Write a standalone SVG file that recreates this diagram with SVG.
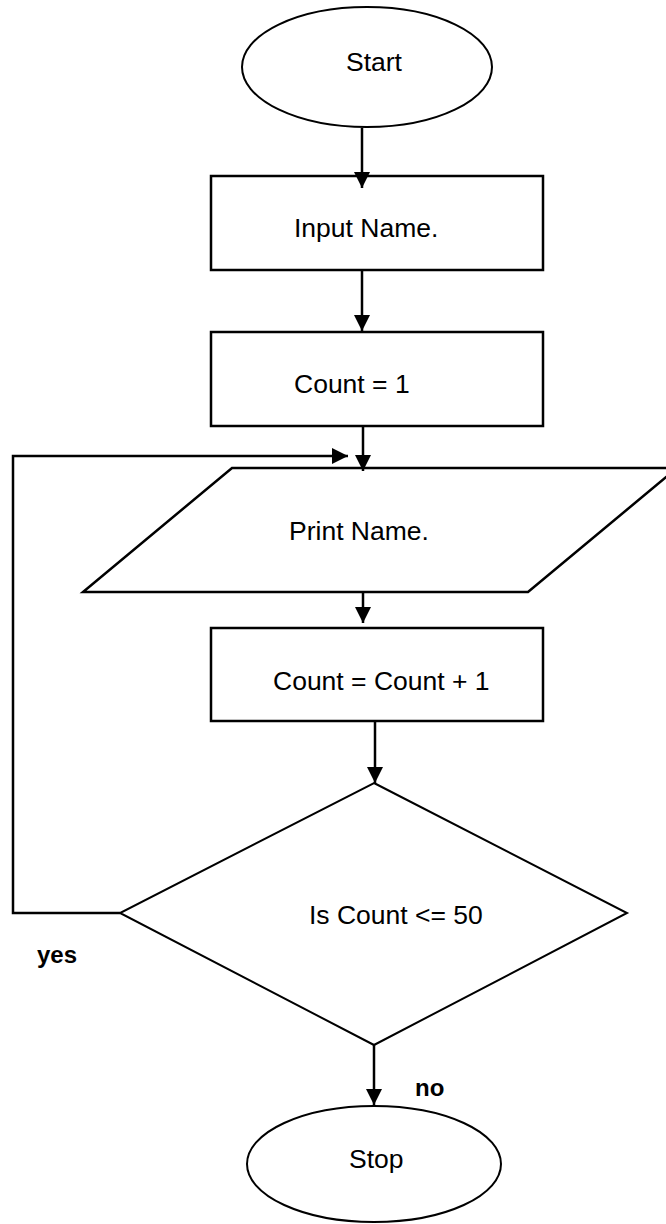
<svg xmlns="http://www.w3.org/2000/svg" width="666" height="1224" viewBox="0 0 666 1224">
<defs>
<marker id="ah" markerUnits="userSpaceOnUse" markerWidth="18" markerHeight="18" refX="16" refY="8" orient="auto">
<path d="M0,0 L16,8 L0,16 z" fill="#000"/>
</marker>
<style>
.shape{fill:#fff;stroke:#000;stroke-width:2}
.box{fill:#fff;stroke:#000;stroke-width:2.5}
.conn{fill:none;stroke:#000;stroke-width:2.5}
.lbl{font-family:"Liberation Sans",Arial,sans-serif;font-size:26.5px;fill:#000}
.blbl{font-family:"Liberation Sans",Arial,sans-serif;font-size:24px;font-weight:bold;fill:#000}
</style>
</defs>
<rect width="666" height="1224" fill="#fff"/>
<g id="start"><ellipse class="shape" cx="367" cy="67" rx="125" ry="60"/><text class="lbl" x="346" y="71">Start</text></g>
<g id="input"><rect class="box" x="211" y="176" width="332" height="94"/><text class="lbl" x="294" y="237">Input Name.</text></g>
<g id="init"><rect class="box" x="211" y="332" width="332" height="94"/><text class="lbl" x="294" y="393">Count = 1</text></g>
<g id="print"><polygon class="box" points="232,468 677,468 528,592 83,592"/><text class="lbl" x="289" y="540">Print Name.</text></g>
<g id="incr"><rect class="box" x="211" y="628" width="332" height="93"/><text class="lbl" x="273" y="690">Count = Count + 1</text></g>
<g id="decision"><polygon class="shape" points="374,783 627,913 374,1045 120,913"/><text class="lbl" x="309" y="924">Is Count &lt;= 50</text></g>
<g id="stop"><ellipse class="shape" cx="374" cy="1164" rx="127" ry="58"/><text class="lbl" x="349" y="1168">Stop</text></g>
<g id="connectors">
<line class="conn" x1="362" y1="128" x2="362" y2="188" marker-end="url(#ah)"/>
<line class="conn" x1="362" y1="270" x2="362" y2="331" marker-end="url(#ah)"/>
<line class="conn" x1="363" y1="426" x2="363" y2="471" marker-end="url(#ah)"/>
<polyline class="conn" points="120,913 13,913 13,456 348,456" marker-end="url(#ah)"/>
<line class="conn" x1="363" y1="592" x2="363" y2="623" marker-end="url(#ah)"/>
<line class="conn" x1="375" y1="721" x2="375" y2="783" marker-end="url(#ah)"/>
<line class="conn" x1="374" y1="1045" x2="374" y2="1105" marker-end="url(#ah)"/>
<text class="blbl" x="37" y="963">yes</text>
<text class="blbl" x="415" y="1096">no</text>
</g>
</svg>
